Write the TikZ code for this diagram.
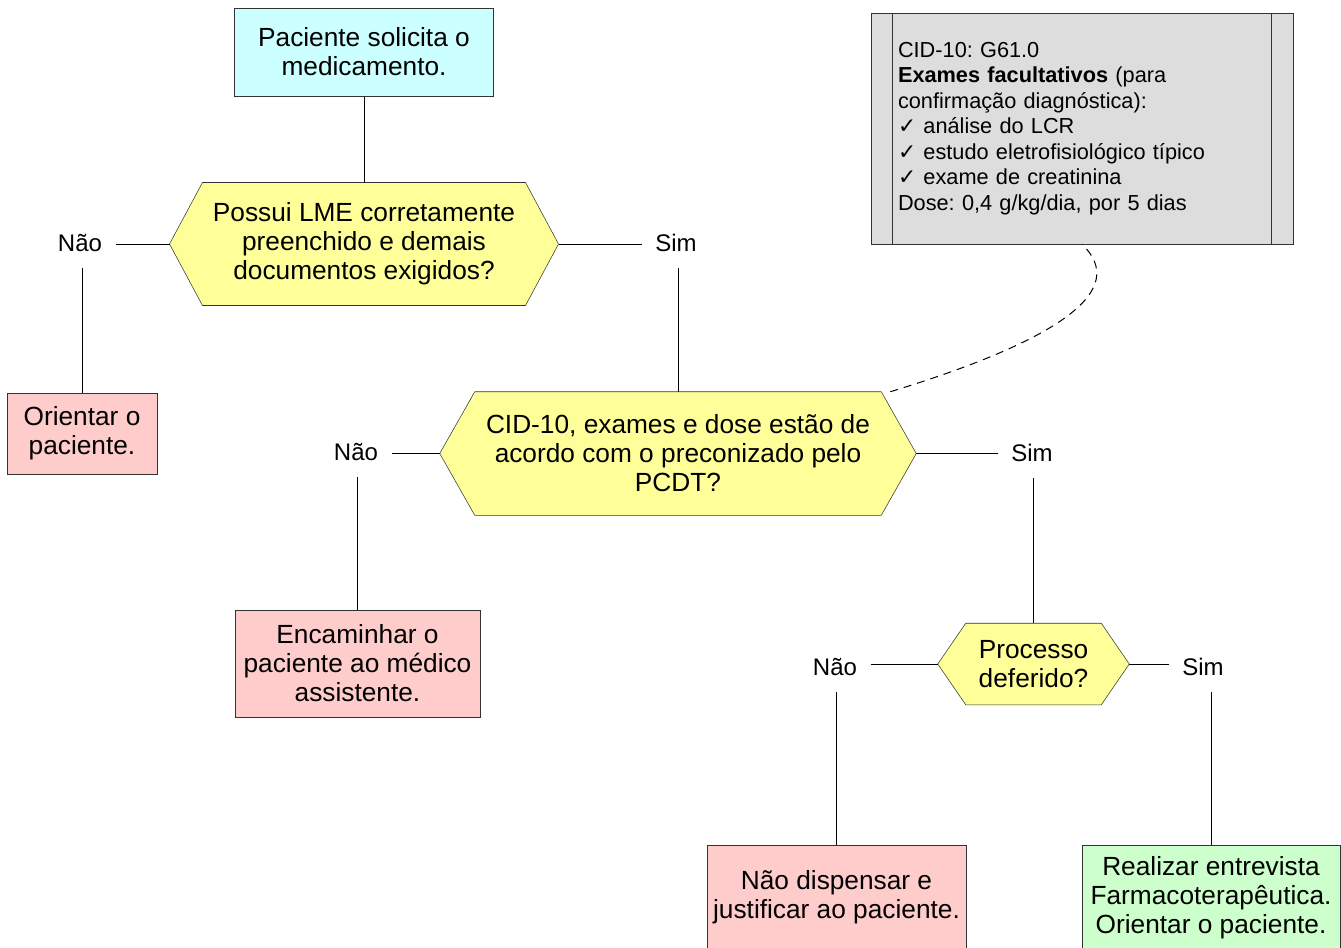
\documentclass[tikz,border=0pt]{standalone}
\usepackage{fontspec}
\setmainfont{Liberation Sans}
\newfontfamily\symfont{DejaVu Sans}
\usetikzlibrary{backgrounds}
\definecolor{startfill}{HTML}{CCFFFF}
\definecolor{askfill}{HTML}{FFFF99}
\definecolor{stopfill}{HTML}{FFCCCC}
\definecolor{gofill}{HTML}{CCFFCC}
\definecolor{notefill}{HTML}{DDDDDD}
\definecolor{edge}{HTML}{333333}
\frenchspacing

% hexagonal decision outline behind a named node; #2 = horizontal cut
\newcommand\hexoutline[2]{%
  \begin{pgfonlayer}{background}
    \draw[edge, fill=askfill] (#1.west) -- ([xshift=#2]#1.north west)
      -- ([xshift=-#2]#1.north east) -- (#1.east)
      -- ([xshift=-#2]#1.south east) -- ([xshift=#2]#1.south west) -- cycle;
  \end{pgfonlayer}}

\begin{document}
\begin{tikzpicture}[x=0.75pt, y=-0.75pt, line width=0.75pt,
  txt/.style={font=\fontsize{19.7}{21.75}\selectfont, align=center, inner sep=0pt},
  box/.style={txt, draw=edge},
  ask/.style={txt},
  answer/.style={font=\fontsize{18}{21}\selectfont, text height=12.9pt, text depth=0pt,
                 inner xsep=10pt, inner ysep=12.3pt},
  link/.style={draw=black, line width=0.75pt}]
\useasboundingbox (0,0) rectangle (1341,947);

% start
\node[box, fill=startfill, minimum width=194.25pt, minimum height=66pt]
  (start) at (364,52) {Paciente solicita o\\medicamento.};

% first decision
\node[ask, minimum width=291pt, minimum height=91.5pt] (q1) at (364,244)
  {Possui LME corretamente\\preenchido e demais\\documentos exigidos?};
\hexoutline{q1}{24.75pt}

% clinical note
\node[draw=edge, fill=notefill, minimum width=316.5pt, minimum height=173.25pt,
      inner xsep=20.25pt, inner ysep=0pt, text width=276pt, align=left,
      font=\fontsize{16.3}{19.1}\selectfont] (note) at (1082,128.5)
  {CID-10: G61.0\\
   \textbf{Exames facultativos} (para\\
   confirmação diagnóstica):\\
   {\symfont ✓} análise do LCR\\
   {\symfont ✓} estudo eletrofisiológico típico\\
   {\symfont ✓} exame de creatinina\\
   Dose: 0,4 g/kg/dia, por 5 dias};
\draw[edge] ([xshift=16.5pt]note.north west) -- ([xshift=16.5pt]note.south west);
\draw[edge] ([xshift=-16.5pt]note.north east) -- ([xshift=-16.5pt]note.south east);

\node[answer] (n1) at (80,243) {Não};
\node[answer] (s1) at (676,243) {Sim};

\node[box, fill=stopfill, minimum width=112.5pt, minimum height=60.75pt]
  (orient) at (82,433.5) {Orientar o\\paciente.};

% second decision
\node[ask, minimum width=357pt, minimum height=92.25pt] (q2) at (678,453.5)
  {CID-10, exames e dose estão de\\acordo com o preconizado pelo\\PCDT?};
\hexoutline{q2}{26.25pt}

\node[answer] (n2) at (356,452) {Não};
\node[answer] (s2) at (1032,453) {Sim};

\node[box, fill=stopfill, minimum width=183.75pt, minimum height=80.25pt]
  (refer) at (357.5,663.5) {Encaminhar o\\paciente ao médico\\assistente.};

% third decision
\node[ask, minimum width=143.25pt, minimum height=60.75pt] (q3) at (1033.5,664)
  {Processo\\deferido?};
\hexoutline{q3}{21pt}

\node[answer] (n3) at (835,667) {Não};
\node[answer] (s3) at (1203,667) {Sim};

\node[box, fill=stopfill, minimum width=194.25pt, minimum height=78.75pt]
  (deny) at (836.5,897.5) {Não dispensar e\\justificar ao paciente.};
\node[box, fill=gofill, minimum width=193.5pt, minimum height=78.75pt]
  (accept) at (1211,897.5) {Realizar entrevista\\Farmacoterapêutica.\\Orientar o paciente.};

% connectors
\draw[link] (start.south) -- (q1.north);
\draw[link] (q1.west) -- (q1.west -| n1.east);
\draw[link] (q1.east) -- (q1.east -| s1.west);
\draw[link] (orient.north) -- (orient.north |- n1.south);
\draw[link] (q2.north) -- (q2.north |- s1.south);
\draw[link] (q2.west) -- (q2.west -| n2.east);
\draw[link] (q2.east) -- (q2.east -| s2.west);
\draw[link] (refer.north) -- (refer.north |- n2.south);
\draw[link] (q3.north) -- (q3.north |- s2.south);
\draw[link] (q3.west) -- (q3.west -| n3.east);
\draw[link] (q3.east) -- (q3.east -| s3.west);
\draw[link] (deny.north) -- (deny.north |- n3.south);
\draw[link] (accept.north) -- (accept.north |- s3.south);

% annotation link
\coordinate (tag) at ([xshift=-19.5pt]q2.north east);
\draw[link, dash pattern=on 6pt off 4.5pt]
  (tag) .. controls (1060,340) and (1130,290) .. (note.south);
\end{tikzpicture}
\end{document}
